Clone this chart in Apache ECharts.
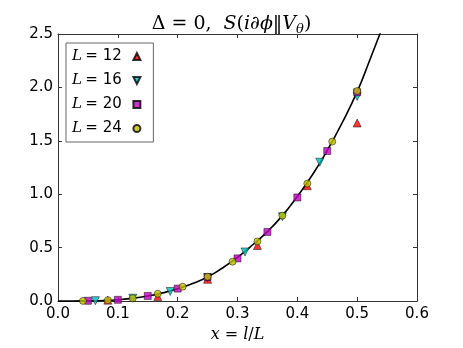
<!DOCTYPE html>
<html>
<head>
<meta charset="utf-8">
<script src="https://cdn.jsdelivr.net/npm/echarts@6/dist/echarts.min.js"></script>
<style>
  html, body { margin: 0; padding: 0; background: #fff; }
  #chart { width: 463px; height: 348px; }
</style>
</head>
<body>
<div id="chart"></div>
<script>
// data
var x12 = [0.0833, 0.1667, 0.25, 0.3333, 0.4167, 0.5];
var y12 = [0.009, 0.042, 0.204, 0.52, 1.08, 1.667];

var x16 = [0.0625, 0.125, 0.1875, 0.25, 0.3125, 0.375, 0.4375, 0.5];
var y16 = [0.004, 0.027, 0.09, 0.22, 0.46, 0.79, 1.30, 1.915];

var x20 = [0.05, 0.1, 0.15, 0.2, 0.25, 0.3, 0.35, 0.4, 0.45, 0.5];
var y20 = [0.003, 0.012, 0.048, 0.117, 0.225, 0.40, 0.647, 0.97, 1.405, 1.955];

var x24 = [0.0417, 0.0833, 0.125, 0.1667, 0.2083, 0.25, 0.2917, 0.3333, 0.375, 0.4167, 0.4583, 0.5];
var y24 = [0.002, 0.009, 0.027, 0.069, 0.135, 0.228, 0.369, 0.558, 0.80, 1.10, 1.493, 1.967];

// fitted curve, sampled by eye
var curveX = [0, 0.025, 0.05, 0.075, 0.1, 0.125, 0.15, 0.175, 0.2, 0.225, 0.25, 0.275, 0.3, 0.325, 0.35, 0.375, 0.4, 0.425, 0.45, 0.475, 0.5, 0.52, 0.54];
var curveY = [0, 0.0005, 0.003, 0.006, 0.013, 0.027, 0.047, 0.077, 0.115, 0.165, 0.225, 0.31, 0.41, 0.525, 0.65, 0.80, 0.98, 1.18, 1.41, 1.67, 1.96, 2.24, 2.53];

var xTicks = ['0.0', '0.1', '0.2', '0.3', '0.4', '0.5', '0.6'];
var yTicks = ['0.0', '0.5', '1.0', '1.5', '2.0', '2.5'];

function pairs(xs, ys) {
  return xs.map(function (x, i) { return [x, ys[i]]; });
}

var tickFont = { color: '#000', fontSize: 15, fontFamily: 'DejaVu Sans' };
var edge = { borderColor: '#000', borderWidth: 0.6 };
var frame = { show: true, onZero: false, lineStyle: { color: '#333', width: 1 } };
var ticks = { inside: true, length: 4, lineStyle: { color: '#333' } };

var chart = echarts.init(document.getElementById('chart'));
chart.setOption({
  animation: false,
  backgroundColor: '#fff',
  title: {
    text: '{m|Δ = 0,  }{i|S}{m|(}{i|i∂ϕ}{m|‖}{i|V}{s|θ}{m|)}',
    left: 'center',
    top: 8,
    textStyle: {
      fontWeight: 'normal',
      rich: {
        m: { fontFamily: 'DejaVu Serif', fontWeight: 'normal', fontSize: 19, color: '#000' },
        i: { fontFamily: 'DejaVu Serif', fontWeight: 'normal', fontStyle: 'italic', fontSize: 19, color: '#000' },
        s: { fontFamily: 'DejaVu Serif', fontWeight: 'normal', fontStyle: 'italic', fontSize: 13, color: '#000', verticalAlign: 'bottom', padding: [10, 0, 0, 0] }
      }
    }
  },
  grid: { left: 58, right: 46, top: 34, bottom: 36 },
  legend: {
    orient: 'vertical',
    left: 66,
    top: 43,
    align: 'right',
    itemWidth: 7,
    itemHeight: 7,
    itemGap: 9,
    padding: [6, 12, 6, 6],
    borderColor: '#666',
    borderWidth: 1,
    backgroundColor: '#fff',
    data: ['L = 12', 'L = 16', 'L = 20', 'L = 24'],
    formatter: function (name) {
      return '{i|L} {t|= ' + name.split('= ')[1] + '}  ';
    },
    textStyle: {
      rich: {
        i: { fontFamily: 'DejaVu Serif', fontStyle: 'italic', fontSize: 15, color: '#000' },
        t: { fontFamily: 'DejaVu Sans', fontSize: 15, color: '#000' }
      }
    }
  },
  xAxis: [{
    type: 'value', min: 0, max: 0.6, interval: 0.1,
    name: '{i|x}{m| = }{i|l}{m|/}{i|L}',
    nameLocation: 'middle',
    nameGap: 21,
    nameTextStyle: {
      rich: {
        i: { fontFamily: 'DejaVu Serif', fontStyle: 'italic', fontSize: 16, color: '#000' },
        m: { fontFamily: 'DejaVu Serif', fontSize: 16, color: '#000' }
      }
    },
    axisLine: frame,
    axisTick: ticks,
    axisLabel: Object.assign({ margin: 6, formatter: function (v) { return xTicks[Math.round(v * 10)]; } }, tickFont),
    splitLine: { show: false }
  }, {
    type: 'value', min: 0, max: 0.6, interval: 0.1, position: 'top',
    axisLine: frame,
    axisTick: ticks,
    axisLabel: { show: false },
    splitLine: { show: false }
  }],
  yAxis: [{
    type: 'value', min: 0, max: 2.5, interval: 0.5,
    axisLine: frame,
    axisTick: ticks,
    axisLabel: Object.assign({ margin: 5, formatter: function (v) { return yTicks[Math.round(v * 2)]; } }, tickFont),
    splitLine: { show: false }
  }, {
    type: 'value', min: 0, max: 2.5, interval: 0.5, position: 'right',
    axisLine: frame,
    axisTick: ticks,
    axisLabel: { show: false },
    splitLine: { show: false }
  }],
  series: [
    {
      name: 'fit', type: 'line', smooth: true, showSymbol: false, z: 1,
      clip: true,
      lineStyle: { color: '#000', width: 1.6 },
      data: pairs(curveX, curveY)
    },
    {
      name: 'L = 12', type: 'scatter', symbol: 'triangle', symbolSize: 8, z: 3,
      itemStyle: Object.assign({ color: '#ff0000' }, edge),
      data: pairs(x12, y12)
    },
    {
      name: 'L = 16', type: 'scatter', symbol: 'path://M0,0 L10,0 L5,10 Z', symbolSize: 8, z: 3,
      itemStyle: Object.assign({ color: '#00bfbf' }, edge),
      data: pairs(x16, y16)
    },
    {
      name: 'L = 20', type: 'scatter', symbol: 'rect', symbolSize: 7, z: 3,
      itemStyle: Object.assign({ color: '#bf00bf' }, edge),
      data: pairs(x20, y20)
    },
    {
      name: 'L = 24', type: 'scatter', symbol: 'circle', symbolSize: 7, z: 3,
      itemStyle: Object.assign({ color: '#bfbf00' }, edge),
      data: pairs(x24, y24)
    }
  ]
});
</script>
</body>
</html>
